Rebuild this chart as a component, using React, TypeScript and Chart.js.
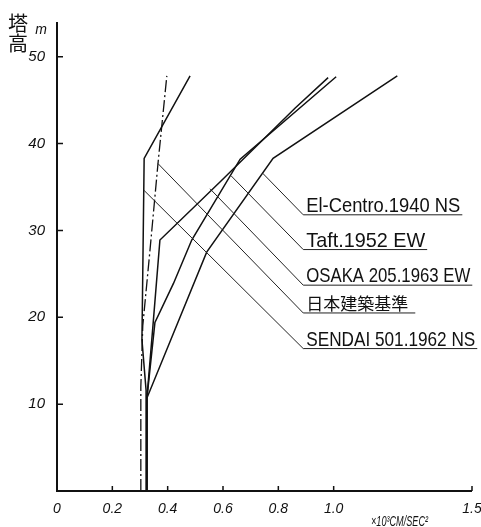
import React, { useEffect, useRef } from "react";
import { Chart, registerables } from "chart.js";

Chart.register(...registerables);

// ---- data (x: ×10³ cm/sec², y: tower height m) ----
const elCentroX = [0.324, 0.325, 0.541, 0.781, 1.23];
const elCentroY = [0, 10.7, 27.5, 38.3, 47.8];

const taftX = [0.324, 0.325, 0.354, 0.421, 0.487, 0.662, 1.009];
const taftY = [0, 10.7, 19.4, 23.9, 28.9, 38.2, 47.7];

const osakaX = [0.324, 0.325, 0.347, 0.372, 0.59, 0.861, 0.98];
const osakaY = [0, 10.7, 19.1, 28.9, 35.6, 44.1, 47.6];

const kijunX = [0.303, 0.303, 0.31, 0.336, 0.365, 0.397];
const kijunY = [0, 12, 19, 27.7, 37.7, 47.8];

const sendaiX = [0.322, 0.322, 0.307, 0.311, 0.315, 0.481];
const sendaiY = [0, 11.6, 17.4, 27.7, 38.3, 47.8];

const xTickValues = [0, 0.2, 0.4, 0.6, 0.8, 1.0, 1.5];
const xTickLabels = ["0", "0.2", "0.4", "0.6", "0.8", "1.0", "1.5"];
const yTickValues = [10, 20, 30, 40, 50];
const yTickLabels = ["10", "20", "30", "40", "50"];

// annotation labels with leader lines
const labelNames = [
  "El-Centro.1940 NS",
  "Taft.1952 EW",
  "OSAKA 205.1963 EW",
  "日本建築基準",
  "SENDAI 501.1962 NS",
];
const leaderStartX = [0.743, 0.629, 0.553, 0.365, 0.315];
const leaderStartY = [36.6, 36.3, 34.8, 37.7, 34.6];
const leaderEndX = [0.89, 0.89, 0.89, 0.89, 0.89];
const leaderEndY = [31.8, 27.8, 23.7, 20.5, 16.4];
const underlineEndX = [1.465, 1.338, 1.501, 1.295, 1.519];

const zip = (xs: number[], ys: number[]) => xs.map((x, i) => ({ x, y: ys[i] }));

const decorPlugin = {
  id: "decor",
  afterDraw(chart: any) {
    const { ctx } = chart;
    const x = chart.scales.x;
    const y = chart.scales.y;
    const left = chart.chartArea.left;
    const bottom = chart.chartArea.bottom;
    ctx.save();
    ctx.strokeStyle = "#111";
    ctx.lineCap = "butt";
    // axes
    ctx.lineWidth = 2;
    ctx.beginPath();
    ctx.moveTo(left, chart.chartArea.top);
    ctx.lineTo(left, bottom + 1);
    ctx.moveTo(left - 1, bottom);
    ctx.lineTo(x.getPixelForValue(1.5), bottom);
    ctx.stroke();
    // inward ticks
    ctx.lineWidth = 1.5;
    ctx.beginPath();
    yTickValues.forEach((v) => {
      const py = y.getPixelForValue(v);
      ctx.moveTo(left, py);
      ctx.lineTo(left + 6, py);
    });
    xTickValues.forEach((v) => {
      const px = x.getPixelForValue(v);
      ctx.moveTo(px, bottom);
      ctx.lineTo(px, bottom - 5);
    });
    ctx.stroke();

    // leaders + labels
    labelNames.forEach((name, i) => {
      const sx = x.getPixelForValue(leaderStartX[i]);
      const sy = y.getPixelForValue(leaderStartY[i]);
      const ex = x.getPixelForValue(leaderEndX[i]);
      const ey = y.getPixelForValue(leaderEndY[i]);
      const ux = x.getPixelForValue(underlineEndX[i]);
      ctx.lineWidth = 1;
      ctx.strokeStyle = "#222";
      ctx.beginPath();
      ctx.moveTo(sx, sy);
      ctx.lineTo(ex, ey);
      ctx.lineTo(ux, ey);
      ctx.stroke();
      const isCJK = /[\u3000-\u9fff]/.test(name);
      ctx.fillStyle = "#111";
      ctx.textBaseline = "alphabetic";
      ctx.textAlign = "left";
      ctx.font = isCJK
        ? '17px "Noto Sans CJK JP"'
        : '21px "Liberation Sans"';
      ctx.fillText(name, ex + 3, ey - 3, ux - ex - 5);
    });

    // y-axis title
    ctx.fillStyle = "#111";
    ctx.textAlign = "center";
    ctx.textBaseline = "middle";
    ctx.font = '20px "Noto Sans CJK JP"';
    ctx.fillText("塔", 18, 23);
    ctx.fillText("高", 18, 43);
    ctx.font = 'italic 14px "Liberation Sans"';
    ctx.fillText("m", 41, 30);

    // x unit
    ctx.textAlign = "left";
    ctx.textBaseline = "alphabetic";
    ctx.font = 'italic 14px "Liberation Sans"';
    ctx.fillText("×10³CM/SEC²", 371, 526, 57);
    ctx.restore();
  },
};

export default function App() {
  const canvasRef = useRef<HTMLCanvasElement>(null);
  useEffect(() => {
    if (!canvasRef.current) return;
    const common = {
      borderColor: "#111",
      borderWidth: 1.5,
      pointRadius: 0,
      showLine: true,
      fill: false,
      tension: 0,
    };
    const chart = new Chart(canvasRef.current, {
      type: "scatter",
      data: {
        datasets: [
          { label: "El-Centro.1940 NS", data: zip(elCentroX, elCentroY), ...common },
          { label: "Taft.1952 EW", data: zip(taftX, taftY), ...common },
          { label: "OSAKA 205.1963 EW", data: zip(osakaX, osakaY), ...common },
          {
            label: "日本建築基準",
            data: zip(kijunX, kijunY),
            ...common,
            borderWidth: 1.3,
            borderDash: [12, 3, 2, 3],
          },
          { label: "SENDAI 501.1962 NS", data: zip(sendaiX, sendaiY), ...common },
        ],
      },
      options: {
        animation: false,
        responsive: false,
        devicePixelRatio: 1,
        layout: { padding: { left: 0, right: 9, top: 22, bottom: 0 } },
        plugins: { legend: { display: false }, tooltip: { enabled: false } },
        scales: {
          x: {
            type: "linear",
            min: 0,
            max: 1.5,
            grid: { display: false },
            border: { display: false },
            afterFit: (s: any) => {
              s.height = 36;
              s.paddingLeft = 0;
              s.paddingRight = 0;
            },
            afterBuildTicks: (s: any) => {
              s.ticks = xTickValues.map((v) => ({ value: v }));
            },
            ticks: {
              autoSkip: false,
              maxRotation: 0,
              padding: 2,
              color: "#111",
              font: { family: "Liberation Sans", size: 14, style: "italic" },
              callback: (_v: any, i: number) => xTickLabels[i],
            },
          },
          y: {
            type: "linear",
            min: 0,
            max: 54,
            grid: { display: false },
            border: { display: false },
            afterFit: (s: any) => {
              s.width = 57;
              s.paddingTop = 0;
              s.paddingBottom = 0;
            },
            afterBuildTicks: (s: any) => {
              s.ticks = yTickValues.map((v) => ({ value: v }));
            },
            ticks: {
              autoSkip: false,
              padding: 4,
              color: "#111",
              font: { family: "Liberation Sans", size: 15, style: "italic" },
              callback: (_v: any, i: number) => yTickLabels[i],
            },
          },
        },
      },
      plugins: [decorPlugin],
    } as any);
    return () => chart.destroy();
  }, []);
  return (
    <div
      style={{
        position: "absolute",
        left: 0,
        top: 0,
        width: 481,
        height: 527,
        background: "#fff",
      }}
    >
      <canvas ref={canvasRef} width={481} height={527} />
    </div>
  );
}
